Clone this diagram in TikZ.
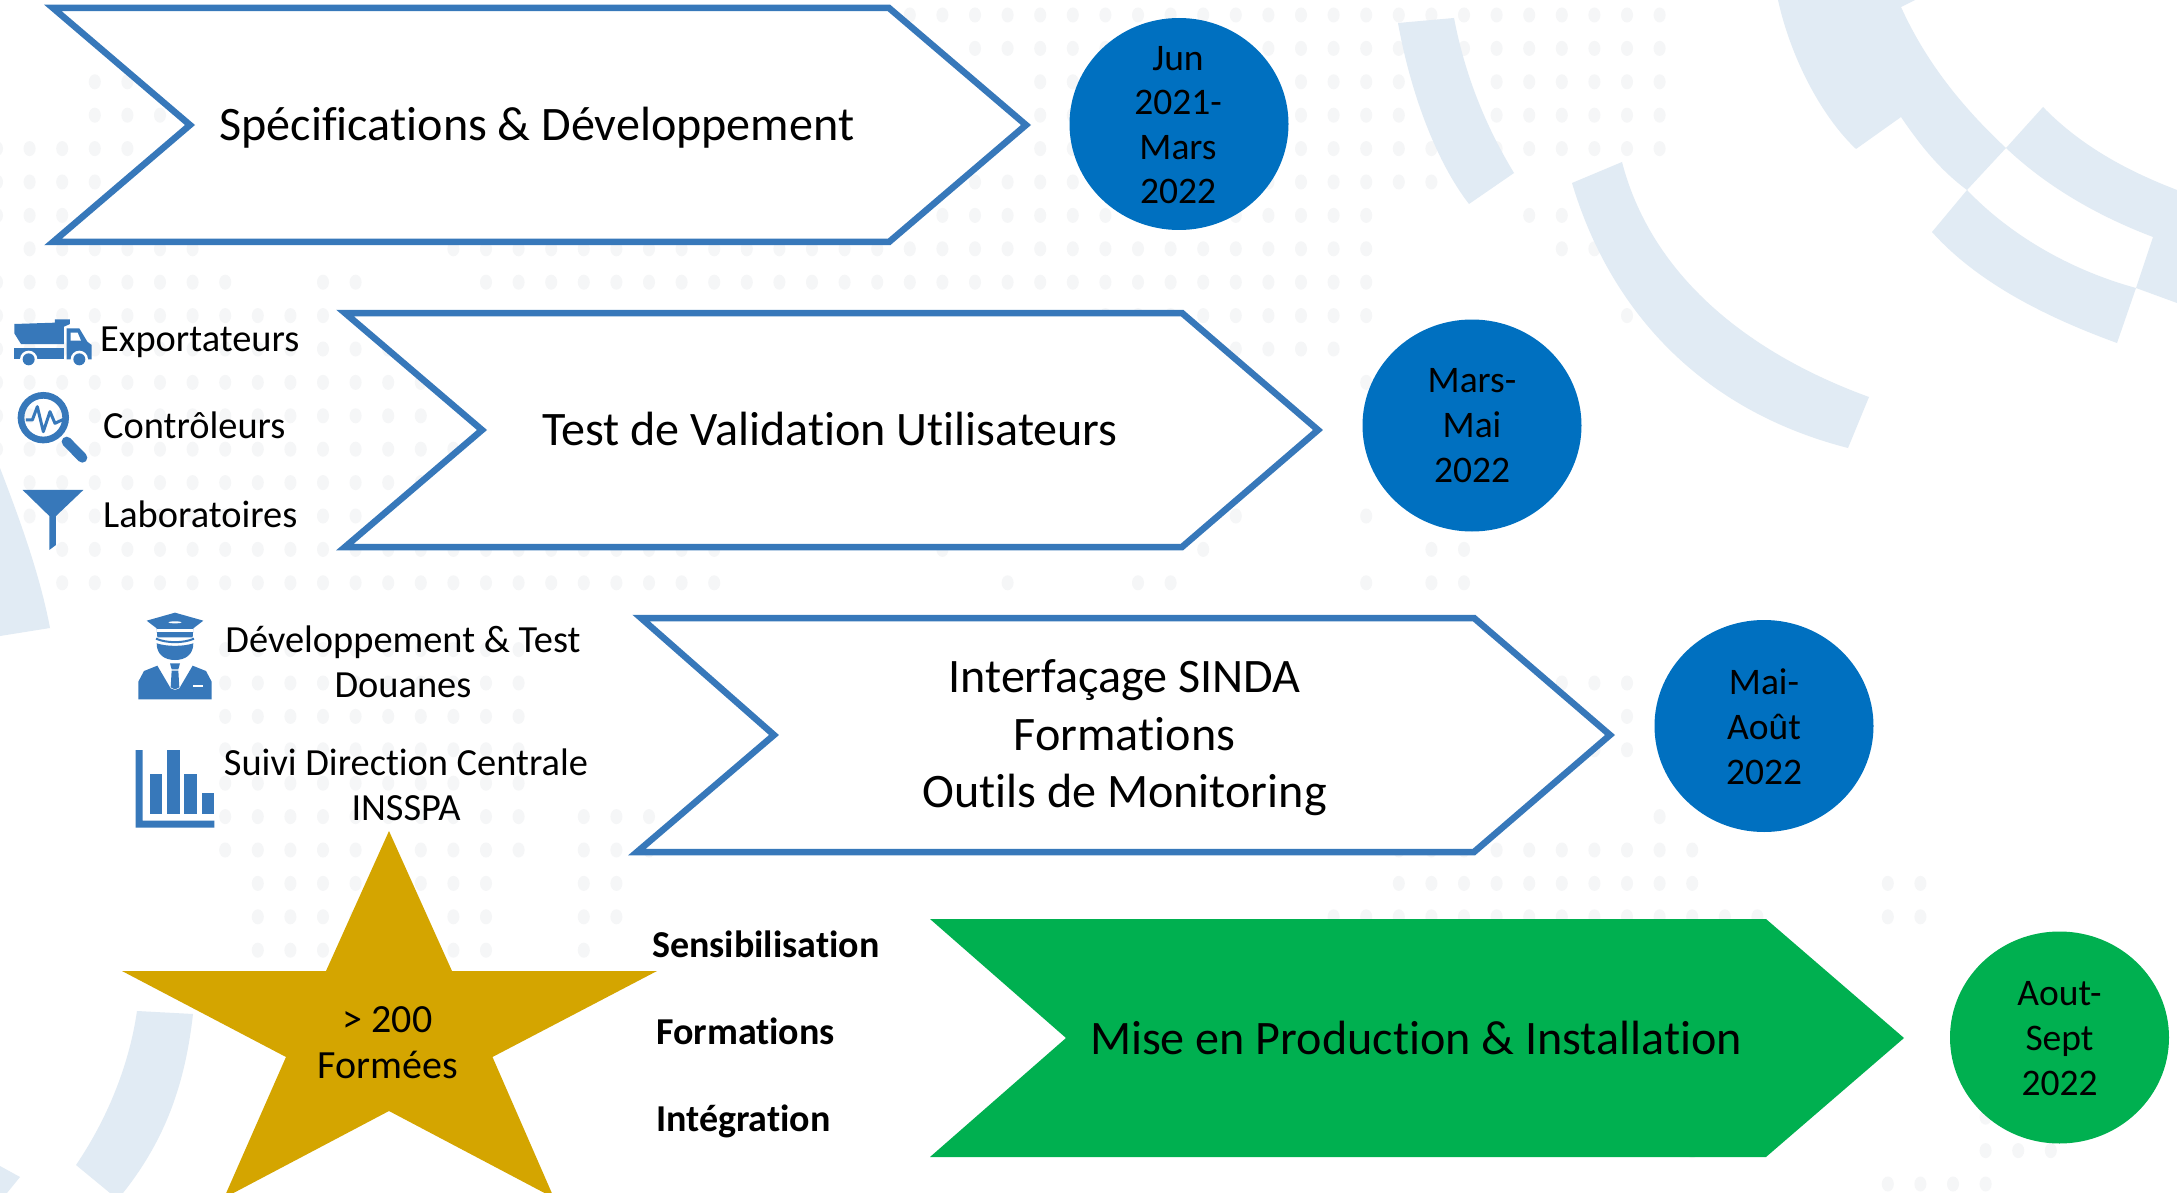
\documentclass[tikz,border=0pt]{standalone}
\usepackage{fontspec}
\setmainfont{Carlito}[Ligatures=NoCommon]
\usetikzlibrary{shapes.geometric}
\definecolor{linkblue}{HTML}{3778BA}
\definecolor{dateblue}{HTML}{0070C0}
\definecolor{dategreen}{HTML}{00B050}
\definecolor{stargold}{HTML}{D4A500}
\definecolor{arcpale}{HTML}{E1EBF4}
\definecolor{dotpale}{HTML}{F5F6F7}
\tikzset{
  chevron/.style={draw=linkblue,line width=6.5pt,fill=white,miter limit=10},
  chevrongreen/.style={fill=dategreen},
  datedisc/.style={ellipse,inner sep=0pt,minimum width=219pt,minimum height=212pt,fill=dateblue},
  datedisc green/.style={datedisc,fill=dategreen},
  bigtext/.style={font=\fontsize{48.1}{57.5}\selectfont,anchor=base,inner sep=0pt,align=center,text=black},
  datetext/.style={font=\fontsize{37.5}{44.6}\selectfont,anchor=base,inner sep=0pt,align=center,text=black},
  startext/.style={font=\fontsize{40}{46}\selectfont,anchor=base,inner sep=0pt,align=center,text=black},
  sidetext/.style={font=\fontsize{38.4}{44.5}\selectfont,anchor=base,inner sep=0pt,align=center,text=black},
  sideleft/.style={sidetext,anchor=base west},
  boldtext/.style={font=\fontsize{38}{44}\bfseries\selectfont,anchor=base west,inner sep=0pt,text=black},
  icon/.style={fill=linkblue,draw=none},
  knock/.style={fill=white,draw=none},
  arcshape/.style={fill=arcpale,draw=none},
}
\newcommand{\dotrow}[3]{\foreach \j in {#2,...,#3}{\fill[dotpale] ({-3+32.6*\j},{15+33.4*#1}) ellipse (6 and 7.5);}}
\begin{document}
\begin{tikzpicture}[x=1pt,y=-1pt]
\useasboundingbox (0,0) rectangle (2177,1193);
\clip (0,0) rectangle (2177,1193);
\fill[white] (0,0) rectangle (2177,1193);
% dot field
\dotrow{0}{28}{51}\dotrow{1}{30}{51}\dotrow{2}{32}{51}\dotrow{3}{32}{51}\dotrow{4}{32}{51}
\dotrow{2}{3}{4}\dotrow{3}{3}{5}
\dotrow{4}{0}{4}\dotrow{5}{0}{3}\dotrow{5}{28}{44}\dotrow{6}{0}{2}\dotrow{6}{28}{42}\dotrow{6}{47}{48}
\dotrow{7}{1}{6}\dotrow{7}{14}{42}\dotrow{7}{48}{50}
\dotrow{8}{0}{7}\dotrow{8}{10}{11}\dotrow{8}{15}{42}\dotrow{8}{50}{50}
\dotrow{9}{0}{10}\dotrow{9}{34}{42}\dotrow{9}{50}{50}
\dotrow{10}{0}{13}\dotrow{10}{38}{41}
\dotrow{11}{0}{13}\dotrow{11}{42}{44}
\dotrow{12}{0}{13}\dotrow{13}{0}{14}\dotrow{14}{0}{14}\dotrow{14}{38}{38}
\dotrow{15}{0}{14}\dotrow{15}{37}{38}\dotrow{15}{42}{42}
\dotrow{16}{2}{22}\dotrow{16}{29}{29}\dotrow{16}{37}{37}\dotrow{16}{44}{45}
\dotrow{17}{2}{22}\dotrow{17}{31}{31}\dotrow{17}{35}{36}\dotrow{17}{42}{42}\dotrow{17}{44}{45}
\dotrow{19}{7}{16}\dotrow{20}{7}{16}\dotrow{20}{48}{50}\dotrow{21}{7}{16}\dotrow{21}{50}{50}
\dotrow{22}{7}{16}\dotrow{22}{49}{50}\dotrow{23}{7}{16}\dotrow{24}{7}{16}\dotrow{24}{18}{20}\dotrow{24}{45}{46}\dotrow{24}{51}{51}
\dotrow{25}{7}{16}\dotrow{25}{18}{20}\dotrow{25}{43}{52}
\dotrow{26}{8}{15}\dotrow{26}{18}{19}\dotrow{26}{43}{52}\dotrow{26}{58}{59}
\dotrow{27}{8}{15}\dotrow{27}{18}{19}\dotrow{27}{41}{54}\dotrow{27}{58}{59}
\dotrow{28}{8}{15}\dotrow{28}{18}{18}
\dotrow{33}{61}{61}\dotrow{34}{52}{52}\dotrow{34}{61}{63}\dotrow{35}{58}{61}
% pale arcs
\fill[arcshape] (1398,23) .. controls (1410,90) and (1435,160) .. (1469,204) -- (1514,173) .. controls (1485,125) and (1465,75) .. (1454,18) -- cycle;
\fill[arcshape] (1572,183) .. controls (1610,310) and (1700,410) .. (1848,448) -- (1869,397) .. controls (1740,350) and (1650,270) .. (1622,162) -- cycle;
\fill[arcshape] (1778,0) .. controls (1790,55) and (1820,115) .. (1856,149) -- (1901,117) .. controls (1920,145) and (1940,170) .. (1967,190) -- (2006,148) .. controls (1960,105) and (1925,60) .. (1901,7) -- (1915,0) -- cycle;
\fill[arcshape] (2043,107) .. controls (2080,145) and (2125,170) .. (2177,190) -- (2177,303) -- (2136,288) -- (2153,237) .. controls (2095,215) and (2045,185) .. (2006,148) -- cycle;
\fill[arcshape] (1967,190) .. controls (2010,235) and (2070,270) .. (2136,288) -- (2117,343) .. controls (2040,315) and (1975,280) .. (1932,232) -- cycle;
\fill[arcshape] (0,468) .. controls (20,520) and (40,575) .. (50,628) -- (0,636) -- cycle;
\fill[arcshape] (137,1011) -- (193,1014) .. controls (185,1085) and (165,1140) .. (123,1193) -- (110,1193) -- (76,1165) .. controls (110,1115) and (130,1060) .. (137,1011) -- cycle;
\fill[arcshape] (0,1166) -- (20,1177) -- (7,1193) -- (0,1193) -- cycle;
% chevrons
\draw[chevron] (53,8) -- (889,8) -- (1026,125) -- (889,242) -- (53,242) -- (190,125) -- cycle;
\draw[chevron] (345,313) -- (1182,313) -- (1318,430) -- (1182,547) -- (345,547) -- (482,430) -- cycle;
\draw[chevron] (641,618) -- (1474,618) -- (1610,735) -- (1474,852) -- (637,852) -- (774,735) -- cycle;
\fill[chevrongreen] (930,919) -- (1766,919) -- (1904,1038) -- (1766,1157) -- (930,1157) -- (1066,1038) -- cycle;
% star
\fill[stargold] (389,831) -- (452,971) -- (657,971) -- (492.5,1057) -- (554,1198) -- (389,1111) -- (224,1198) -- (286,1057) -- (122,971) -- (326,971) -- cycle;
% date discs
\node[datedisc] (d1) at (1179,124) {};
\node[datedisc] (d2) at (1472,425.5) {};
\node[datedisc] (d3) at (1764,726) {};
\node[datedisc green] (d4) at (2059.5,1037.5) {};
% main labels
\node[bigtext] (t1) at (537,140.6) {Spécifications \& Développement};
\node[bigtext] (t2) at (830,445) {Test de Validation Utilisateurs};
\node[bigtext] (t3) at (1124.5,807.6) {Interfaçage SINDA\\Formations\\Outils de Monitoring};
\node[bigtext] (t4) at (1416,1054) {Mise en Production \& Installation};
% date labels
\node[datetext] (l1) at (1178,204) {Jun\\2021-\\Mars\\2022};
\node[datetext] (l2) at (1472,482) {Mars-\\Mai\\2022};
\node[datetext] (l3) at (1764,784) {Mai-\\Août\\2022};
\node[datetext] (l4) at (2059.5,1095) {Aout-\\Sept\\2022};
% side labels
\node[sideleft] (s1) at (100,351) {Exportateurs};
\node[sideleft] (s2) at (103,438) {Contrôleurs};
\node[sideleft] (s3) at (103,527.5) {Laboratoires};
\node[sidetext] (s4) at (403,697) {Développement \& Test\\Douanes};
\node[sidetext] (s5) at (406,820) {Suivi Direction Centrale\\INSSPA};
\node[startext] (s6) at (387.5,1078) {> 200\\Formées};
\node[boldtext] (b1) at (652,957) {Sensibilisation};
\node[boldtext] (b2) at (656,1044) {Formations};
\node[boldtext] (b3) at (656,1131) {Intégration};
% truck icon
\begin{scope}[shift={(0,300)},scale=1/3]
\fill[icon] (43,72) -- (165,68) -- (165,58) -- (210,58) -- (210,72) -- (192,80) -- (192,132) -- (63,132) -- (43,100) -- cycle;
\fill[icon] (43,145) -- (192,145) -- (192,178) -- (43,178) -- cycle;
\fill[icon] (200,85) -- (238,85) -- (262,125) -- (275,135) -- (275,178) -- (200,178) -- cycle;
\fill[knock] (212,98) -- (233,98) -- (243,122) -- (212,122) -- cycle;
\fill[knock] (86,178) circle (26);\fill[knock] (238,178) circle (26);
\fill[icon] (86,178) circle (18);\fill[icon] (238,178) circle (18);
% magnifier
\draw[linkblue,line width=6.7pt] (130,353) circle (67);
\draw[linkblue,line width=10pt,line cap=round] (200,425) -- (247,473);
\draw[linkblue,line width=3pt,line join=round] (78,360) -- (97,360) -- (112,320) -- (130,395) -- (150,335) -- (165,370) -- (190,358);
% funnel
\fill[icon] (68,570) -- (250,570) -- (168,648) -- (168,735) -- (148,750) -- (148,648) -- cycle;
\end{scope}
% officer and chart icons
\begin{scope}[shift={(120,600)},scale=1/3]
\fill[icon] (80,62) -- (165,38) -- (250,62) -- (220,85) -- (218,112) -- (112,112) -- (110,85) -- cycle;
\fill[knock] (112,87) rectangle (218,97);
\fill[knock] (165,67) ellipse (20 and 3);
\draw[linkblue,line width=2pt] (108,116) .. controls (140,130) and (190,130) .. (222,116);
\fill[icon] (110,130) .. controls (140,140) and (190,140) .. (220,130) .. controls (220,165) and (195,180) .. (165,180) .. controls (135,180) and (110,165) .. (110,130) -- cycle;
\fill[icon] (55,298) -- (55,245) -- (72,213) -- (112,197) -- (152,265) -- (165,270) -- (178,265) -- (218,197) -- (258,213) -- (275,245) -- (275,298) -- cycle;
\fill[icon] (150,190) -- (180,190) -- (175,208) -- (155,208) -- cycle;
\fill[icon] (155,212) -- (175,212) -- (178,262) -- (165,268) -- (152,262) -- cycle;
\fill[knock] (218,256) rectangle (250,261);
\fill[icon] (47,450) -- (68,450) -- (68,662) -- (283,662) -- (283,683) -- (47,683) -- cycle;
\fill[icon] (89,522) rectangle (127,642);
\fill[icon] (141,450) rectangle (179,642);
\fill[icon] (193,522) rectangle (231,642);
\fill[icon] (245,580) rectangle (283,642);
\end{scope}
\end{tikzpicture}
\end{document}
